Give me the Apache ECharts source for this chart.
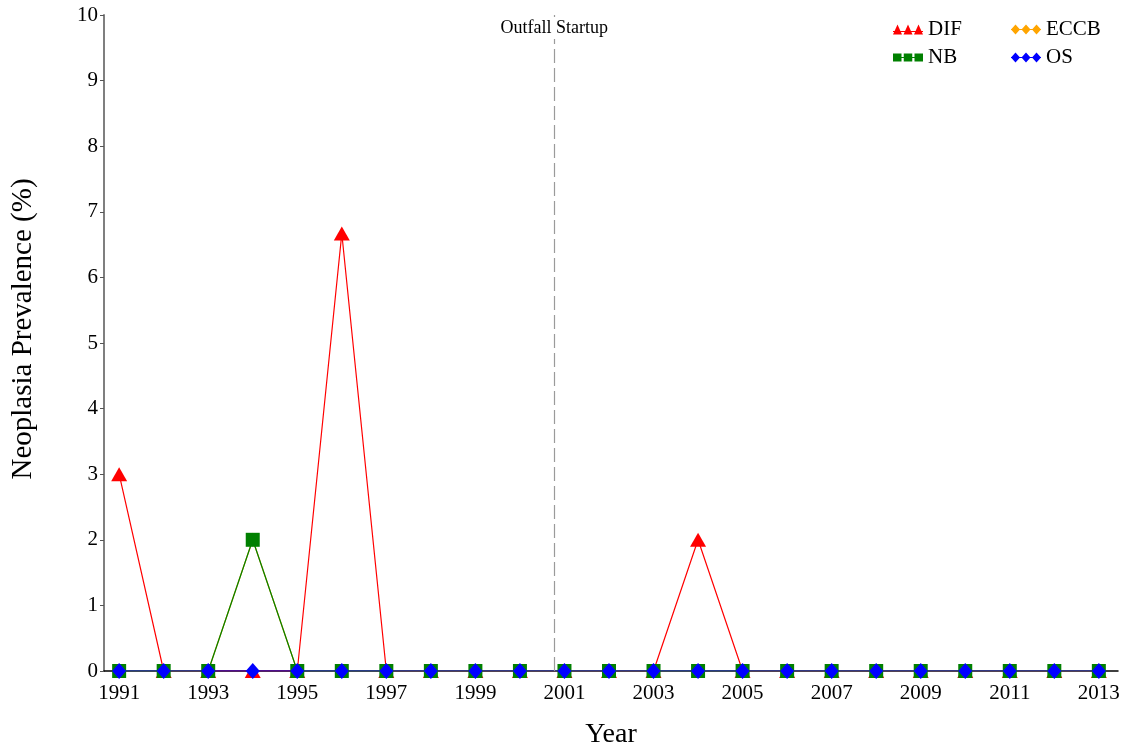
<!DOCTYPE html>
<html>
<head>
<meta charset="utf-8">
<script src="https://cdn.jsdelivr.net/npm/echarts@6/dist/echarts.min.js"></script>
<style>
  html, body { margin: 0; padding: 0; background: #fff; }
  #chart { width: 1124px; height: 747px; }
</style>
</head>
<body>
<div id="chart"></div>
<script>
// Survey years and neoplasia prevalence (%) by station group
const years = [1991,1992,1993,1994,1995,1996,1997,1998,1999,2000,2001,2002,2003,2004,2005,2006,2007,2008,2009,2010,2011,2012,2013];
const difValues  = [3,0,0,0,0,6.67,0,0,0,0,0,0,0,2,0,0,0,0,0,0,0,0,0];
const eccbValues = [0,0,0,2,0,0,0,0,0,0,0,0,0,0,0,0,0,0,0,0,0,0,0];
const nbValues   = [0,0,0,2,0,0,0,0,0,0,0,0,0,0,0,0,0,0,0,0,0,0,0];
const osValues   = [0,0,0,0,0,0,0,0,0,0,0,0,0,0,0,0,0,0,0,0,0,0,0];
const yearTicks  = [1991,1993,1995,1997,1999,2001,2003,2005,2007,2009,2011,2013];
const yTicks     = [0,1,2,3,4,5,6,7,8,9,10];
const outfallYear = 2000.77;
const outfallLabel = 'Outfall Startup';
const outfallLabelLevel = 9.8;

const FONT = '"Liberation Serif", "DejaVu Serif", serif';

function pairs(vals) { return years.map((y, i) => [y, vals[i]]); }

// Legend keys: three markers joined by a line
const triIcon = 'path://M0,10L4.5,0L9,10Z M10.5,10L15,0L19.5,10Z M21,10L25.5,0L30,10Z M0,6.5H30V7.5H0Z';
const sqIcon  = 'path://M0,1H8.5V9H0Z M10.75,1H19.25V9H10.75Z M21.5,1H30V9H21.5Z M0,4.5H30V5.5H0Z';
const diaIcon = 'path://M0,5L4.5,0L9,5L4.5,10Z M10.5,5L15,0L19.5,5L15,10Z M21,5L25.5,0L30,5L25.5,10Z M0,4.5H30V5.5H0Z';

const legendCommon = {
  orient: 'vertical',
  itemWidth: 30,
  itemHeight: 11,
  itemGap: 7,
  padding: 0,
  textStyle: { fontFamily: FONT, fontSize: 21, color: '#000', lineHeight: 20 }
};

function lineSeries(name, vals, color, symbol, size) {
  return {
    name: name,
    type: 'line',
    data: pairs(vals),
    symbol: symbol,
    symbolSize: size,
    showSymbol: true,
    lineStyle: { color: color, width: 1.2 },
    itemStyle: { color: color },
    emphasis: { disabled: true },
    animation: false
  };
}

const chart = echarts.init(document.getElementById('chart'), null, { renderer: 'canvas' });

const dif = lineSeries('DIF', difValues, '#ff0000', 'triangle', [16, 14]);
dif.markLine = {
  silent: true,
  symbol: 'none',
  label: { show: false },
  lineStyle: { color: '#9a9a9a', type: [14, 5], width: 1.2 },
  data: [[{ coord: [outfallYear, 0] }, { coord: [outfallYear, 10] }]]
};
dif.markPoint = {
  silent: true,
  symbol: 'rect',
  symbolSize: 0,
  data: [{ coord: [outfallYear, outfallLabelLevel] }],
  label: {
    show: true,
    position: 'inside',
    formatter: outfallLabel,
    fontFamily: FONT,
    fontSize: 18,
    color: '#000',
    backgroundColor: '#fff',
    padding: [2, 2]
  }
};

chart.setOption({
  backgroundColor: '#fff',
  animation: false,
  grid: { left: 104, right: 6, top: 15, bottom: 76, containLabel: false, outerBoundsMode: 'none' },
  legend: [
    Object.assign({}, legendCommon, {
      left: 893, top: 19,
      data: [{ name: 'DIF', icon: triIcon }, { name: 'NB', icon: sqIcon }]
    }),
    Object.assign({}, legendCommon, {
      left: 1011, top: 19,
      data: [{ name: 'ECCB', icon: diaIcon }, { name: 'OS', icon: diaIcon }]
    })
  ],
  xAxis: {
    type: 'value',
    min: 1990.66,
    max: 2013.43,
    offset: 3,
    name: 'Year',
    nameLocation: 'middle',
    nameGap: 47,
    nameTextStyle: { fontFamily: FONT, fontSize: 28, color: '#000' },
    axisLine: { show: true, lineStyle: { color: '#000', width: 1.5 } },
    axisTick: { show: false },
    splitLine: { show: false },
    axisLabel: {
      customValues: yearTicks,
      formatter: v => String(v),
      fontFamily: FONT,
      fontSize: 21,
      color: '#000',
      margin: 9
    }
  },
  yAxis: {
    type: 'value',
    min: 0,
    max: 10,
    interval: 1,
    name: 'Neoplasia Prevalence (%)',
    nameLocation: 'middle',
    nameGap: 66,
    nameTextStyle: { fontFamily: FONT, fontSize: 29, color: '#000', padding: [0, 0, 0, 28] },
    axisLine: { show: true, lineStyle: { color: '#7f7f7f', width: 2 } },
    axisTick: { show: true, length: 4, lineStyle: { color: '#555', width: 1 }, customValues: yTicks },
    splitLine: { show: false },
    axisLabel: {
      customValues: yTicks,
      fontFamily: FONT,
      fontSize: 21,
      color: '#000',
      margin: 6
    }
  },
  series: [
    dif,
    lineSeries('ECCB', eccbValues, '#ffa500', 'diamond', [12, 14]),
    lineSeries('NB', nbValues, '#008000', 'rect', [14, 14]),
    lineSeries('OS', osValues, '#0000ff', 'diamond', [14, 16])
  ]
});
</script>
</body>
</html>
